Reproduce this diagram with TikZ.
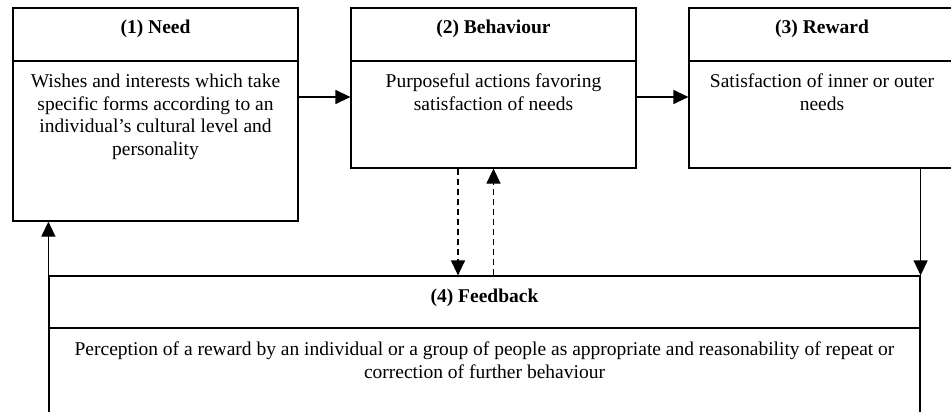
\documentclass[tikz,border=0pt]{standalone}
\usepackage{fontspec}
\setmainfont{Liberation Serif}
\usetikzlibrary{arrows.meta, positioning, calc}

\begin{document}
\begin{tikzpicture}[x=1pt, y=-1pt, line width=1.2pt,
	font=\fontsize{19.5}{22.7}\selectfont,
	box/.style={draw, inner sep=0pt},
	head/.style={font=\fontsize{19.5}{22.7}\selectfont\bfseries},
	body/.style={align=center, anchor=north, inner sep=0pt},
	flow/.style={-{Triangle[length=15pt, width=14pt]}},
	back/.style={flow, dash pattern=on 6pt off 4pt}]

	\useasboundingbox (0,0) rectangle (951,412);
	\clip (0,0) rectangle (951,412);

	\coordinate (sepA) at (0,61);
	\coordinate (sepB) at (0,328);
	\coordinate (lvl) at (0,97);

	% stage boxes
	\node[box, minimum width=285pt, minimum height=213pt] (need) at (155.5,114.5) {};
	\node[box, minimum width=285pt, minimum height=160pt] (beh) at (493.5,88) {};
	\node[box, minimum width=266pt, minimum height=160pt] (rew) at (822,88) {};
	\node[box, minimum width=871pt, minimum height=184pt] (fb) at (484.5,368) {};

	% header rules
	\foreach \nm in {need, beh, rew} {
		\draw (\nm.west |- sepA) -- (\nm.east |- sepA);
	}
	\draw (fb.west |- sepB) -- (fb.east |- sepB);

	% titles
	\node[head] (need-head) at ([yshift=-21pt]need.north) {(1) Need};
	\node[head] (beh-head) at ([yshift=-21pt]beh.north) {(2) Behaviour};
	\node[head] (rew-head) at ([yshift=-21pt]rew.north) {(3) Reward};
	\node[head] (fb-head) at ([yshift=-22.5pt]fb.north) {(4) Feedback};

	% descriptions
	\node[body] (need-text) at ([yshift=-66pt]need.north) {Wishes and interests which take\\specific forms according to an\\individual’s cultural level and\\personality};
	\node[body] (beh-text) at ([yshift=-66pt]beh.north) {Purposeful actions favoring\\satisfaction of needs};
	\node[body] (rew-text) at ([yshift=-66pt]rew.north) {Satisfaction of inner or outer\\needs};
	\node[body] (fb-text) at ([yshift=-66pt]fb.north) {Perception of a reward by an individual or a group of people as appropriate and reasonability of repeat or\\correction of further behaviour};

	% connectors
	\draw[flow] (need.east |- lvl) -- (beh.west |- lvl);
	\draw[flow] (beh.east |- lvl) -- (rew.west |- lvl);
	\draw[flow] (rew.south -| fb.east) -- (fb.north east);
	\draw[flow] (fb.south west) -- (need.south -| fb.west);

	\coordinate (dn) at ([xshift=-35.5pt]beh.south);
	\draw[back] (dn) -- (dn |- fb.north);
	\draw[back] (beh.south |- fb.north) -- (beh.south);

\end{tikzpicture}
\end{document}
